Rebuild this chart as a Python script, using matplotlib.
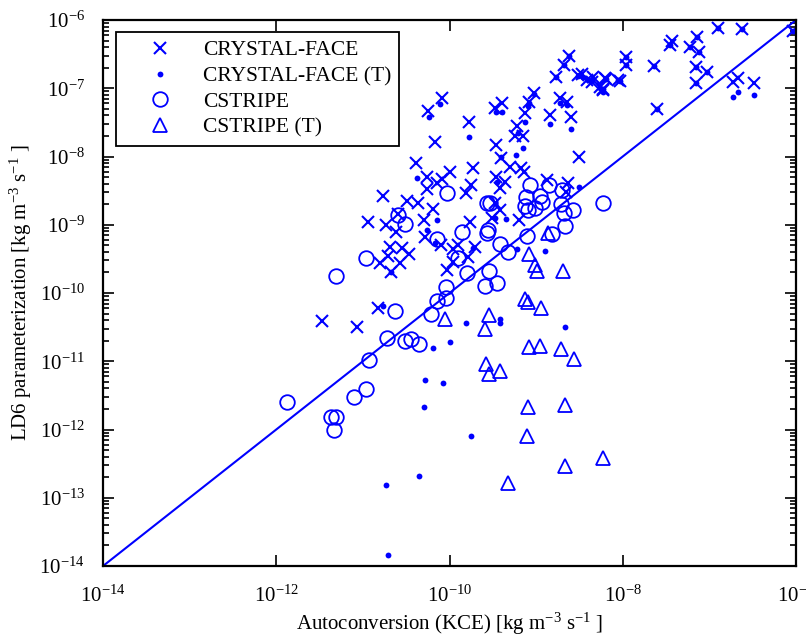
import numpy as np
import matplotlib
matplotlib.use('Agg')
import matplotlib.pyplot as plt
from matplotlib.ticker import FixedLocator, LogLocator, NullLocator, FuncFormatter

plt.rcParams['font.family'] = ['Liberation Serif', 'DejaVu Serif']
plt.rcParams['mathtext.fontset'] = 'custom'
plt.rcParams['mathtext.rm'] = 'Liberation Serif'
plt.rcParams['mathtext.it'] = 'Liberation Serif:italic'
plt.rcParams['mathtext.bf'] = 'Liberation Serif:bold'

# ---- data (log10 of rates, kg m^-3 s^-1) ----
# CRYSTAL-FACE
cf_kce_log10 = [-6.90, -6.62, -6.03, -7.14, -7.43, -7.46, -7.22, -7.12, -7.96, -7.96,
                -7.64, -7.15, -7.03, -8.19, -8.03, -8.23, -7.15, -6.73, -6.67, -6.49,
                -7.60, -8.62, -8.68, -8.77, -8.52, -8.47, -8.41, -8.34, -8.35, -8.26,
                -8.20, -8.23, -8.05, -9.03, -9.08, -10.09, -9.39, -9.47, -8.73, -8.64,
                -9.13, -8.84, -8.60, -9.77, -9.22, -9.24, -9.15, -9.46, -9.40, -8.50,
                -10.25, -10.17, -10.39, -10.26, -10.09, -10.00, -10.14, -10.26, -10.77, -10.49,
                -10.36, -10.19, -10.94, -10.73, -10.29, -10.59, -10.62, -10.28, -10.10, -10.69,
                -10.55, -10.47, -10.71, -10.80, -10.57, -10.67, -9.96, -9.96, -10.03, -9.90,
                -9.70, -9.79, -9.73, -9.81, -9.75, -9.46, -9.36, -9.42, -9.30, -9.18,
                -9.14, -8.87, -8.63, -8.65, -9.47, -9.42, -9.51, -9.20, -9.76, -10.82,
                -11.47, -11.07]
cf_ld6_log10 = [-6.12, -6.13, -6.16, -6.25, -6.31, -6.37, -6.40, -6.47, -6.54, -6.66,
                -6.67, -6.69, -6.76, -6.86, -6.89, -7.01, -6.92, -6.91, -6.85, -6.92,
                -7.30, -6.53, -6.66, -6.84, -6.81, -6.79, -6.88, -6.84, -6.91, -6.98,
                -6.85, -7.03, -6.88, -7.07, -7.20, -7.14, -7.22, -7.29, -7.14, -7.20,
                -7.36, -7.39, -7.42, -7.49, -7.55, -7.70, -7.70, -7.83, -8.02, -8.01,
                -7.33, -7.79, -8.10, -8.30, -8.33, -8.23, -8.39, -8.48, -8.58, -8.65,
                -8.68, -8.77, -8.96, -9.00, -8.93, -8.84, -9.11, -9.18, -9.30, -9.33,
                -9.34, -9.43, -9.46, -9.56, -9.56, -9.69, -9.36, -9.55, -9.66, -9.30,
                -9.33, -9.47, -8.17, -8.53, -8.42, -8.30, -8.37, -8.46, -8.15, -8.17,
                -8.23, -8.34, -8.39, -8.52, -8.68, -8.78, -8.90, -8.93, -8.96, -10.22,
                -10.41, -10.50]

# CRYSTAL-FACE (T)
cft_kce_log10 = [-6.90, -6.62, -6.03, -7.14, -7.46, -7.22, -7.12, -7.96, -7.96, -7.64,
                 -7.15, -7.03, -8.19, -8.03, -8.23, -7.15, -7.60, -8.62, -8.68, -8.77,
                 -8.52, -8.46, -8.40, -8.35, -8.26, -8.23, -8.05, -9.03, -9.08, -6.73,
                 -6.67, -6.49, -10.11, -9.46, -9.39, -8.73, -8.64, -9.09, -8.84, -8.60,
                 -9.77, -9.13, -9.21, -9.15, -9.23, -10.24, -10.37, -10.14, -10.26, -10.17,
                 -10.67, -9.45, -9.47, -9.35, -8.50, -9.73, -9.22, -8.90, -10.77, -10.19,
                 -10.00, -10.28, -10.07, -10.29, -9.75, -10.35, -10.73, -10.71, -9.81, -9.42,
                 -9.42, -8.67, -9.40]
cft_ld6_log10 = [-6.12, -6.13, -6.16, -6.25, -6.37, -6.40, -6.47, -6.54, -6.66, -6.67,
                 -6.69, -6.76, -6.86, -6.89, -7.01, -6.92, -7.31, -6.53, -6.66, -6.84,
                 -6.82, -6.84, -6.88, -6.88, -7.00, -7.06, -6.88, -7.08, -7.22, -7.13,
                 -7.06, -7.10, -7.23, -7.35, -7.35, -7.22, -7.25, -7.26, -7.52, -7.60,
                 -7.71, -7.49, -7.66, -7.88, -7.98, -7.42, -8.32, -8.93, -9.08, -9.27,
                 -9.69, -8.37, -8.90, -8.92, -8.45, -9.34, -9.36, -9.38, -10.19, -10.81,
                 -10.72, -11.27, -11.32, -11.67, -12.10, -12.68, -12.81, -13.84, -10.44, -10.38,
                 -10.44, -10.50, -8.01]

# CSTRIPE
cs_kce_log10 = [-11.88, -11.37, -11.31, -11.33, -11.10, -10.96, -10.93, -10.72, -10.51, -10.44,
                -10.35, -10.63, -10.21, -10.15, -10.04, -10.04, -11.31, -10.96, -10.59, -10.51,
                -10.14, -9.85, -10.03, -9.57, -9.53, -9.07, -8.85, -9.12, -8.95, -8.93,
                -9.13, -9.09, -9.01, -8.70, -8.71, -8.68, -8.57, -8.23, -8.67, -9.57,
                -9.55, -9.10, -8.82, -9.42, -9.33, -9.80, -9.54, -9.59, -9.45, -9.90]
cs_ld6_log10 = [-11.60, -11.82, -11.82, -12.01, -11.52, -11.41, -10.98, -10.66, -10.70, -10.67,
                -10.75, -10.26, -10.31, -10.12, -10.07, -9.91, -9.75, -9.49, -8.86, -8.99,
                -9.21, -9.11, -8.53, -8.68, -8.68, -8.42, -8.42, -8.59, -8.58, -8.67,
                -8.73, -8.78, -8.75, -8.49, -8.70, -8.83, -8.78, -8.68, -9.02, -9.12,
                -9.08, -9.16, -9.14, -9.28, -9.40, -9.71, -9.68, -9.90, -9.85, -9.49]

# CSTRIPE (T)
cst_kce_log10 = [-10.05, -9.54, -9.59, -9.58, -9.54, -9.42, -9.08, -9.01, -8.99, -8.69,
                 -8.86, -9.13, -9.09, -8.94, -9.08, -8.95, -8.71, -8.56, -9.09, -8.67,
                 -9.10, -8.23, -8.67, -9.33]
cst_ld6_log10 = [-10.38, -10.32, -10.53, -11.04, -11.19, -11.14, -9.43, -9.59, -9.68, -9.68,
                 -9.12, -10.09, -10.13, -10.22, -10.79, -10.78, -10.82, -10.97, -11.67, -11.64,
                 -12.10, -12.42, -12.53, -12.78]

one_to_one = [1e-14, 1e-6]
x_tick_exponents = [-14, -12, -10, -8, -6]
y_tick_exponents = [-14, -13, -12, -11, -10, -9, -8, -7, -6]

series_labels = ['CRYSTAL-FACE', 'CRYSTAL-FACE (T)', 'CSTRIPE', 'CSTRIPE (T)']
x_label = 'Autoconversion (KCE) [kg m$^{-3}$ s$^{-1}$ ]'
y_label = 'LD6 parameterization [kg m$^{-3}$ s$^{-1}$ ]'

blue = '#0000ff'

fig = plt.figure(figsize=(8.06, 6.41), dpi=100)
ax = fig.add_axes([0.1278, 0.1170, 0.8598, 0.8518])

def p(a):
    return 10.0 ** np.asarray(a, dtype=float)

ax.plot(p(cf_kce_log10), p(cf_ld6_log10), ls='none', marker='x', ms=8, mew=1.5,
        color=blue, label=series_labels[0])
ax.plot(p(cft_kce_log10), p(cft_ld6_log10), ls='none', marker='o', ms=4.2, mew=0,
        color=blue, label=series_labels[1])
ax.plot(p(cs_kce_log10), p(cs_ld6_log10), ls='none', marker='o', ms=10.5, mew=1.3,
        mfc='none', color=blue, label=series_labels[2])
ax.plot(p(cst_kce_log10), p(cst_ld6_log10), ls='none', marker='^', ms=10.5, mew=1.3,
        mfc='none', color=blue, label=series_labels[3])
ax.plot(one_to_one, one_to_one, color=blue, lw=1.5)

ax.set_xscale('log')
ax.set_yscale('log')
ax.set_xlim(1e-14, 1e-6)
ax.set_ylim(1e-14, 1e-6)

fmt = FuncFormatter(lambda v, pos: r'$10^{%d}$' % int(round(np.log10(v))))
ax.xaxis.set_major_locator(FixedLocator([10.0 ** e for e in x_tick_exponents]))
ax.xaxis.set_minor_locator(NullLocator())
ax.yaxis.set_major_locator(FixedLocator([10.0 ** e for e in y_tick_exponents]))
ax.yaxis.set_minor_locator(LogLocator(base=10, subs=np.arange(2, 10), numticks=20))
ax.xaxis.set_major_formatter(fmt)
ax.yaxis.set_major_formatter(fmt)

ax.tick_params(which='both', direction='in', top=True, right=True, labelsize=15,
               width=1.2, colors='black')
ax.tick_params(which='major', length=8)
ax.tick_params(axis='x', which='major', pad=14)
ax.tick_params(axis='y', which='major', pad=13)
ax.tick_params(which='minor', length=4)
for s in ax.spines.values():
    s.set_linewidth(1.6)

ax.set_xlabel(x_label, fontsize=15, labelpad=3)
ax.set_ylabel(y_label, fontsize=15, labelpad=4)

leg = ax.legend(loc='upper left', bbox_to_anchor=(0.019, 0.978), frameon=True,
                fancybox=False, edgecolor='black', fontsize=15.5, handlelength=3.3,
                handletextpad=0.35, borderpad=0.38, labelspacing=0.27,
                borderaxespad=0, framealpha=1)
leg.get_frame().set_linewidth(1.3)

fig.savefig('out.png', dpi=100)
